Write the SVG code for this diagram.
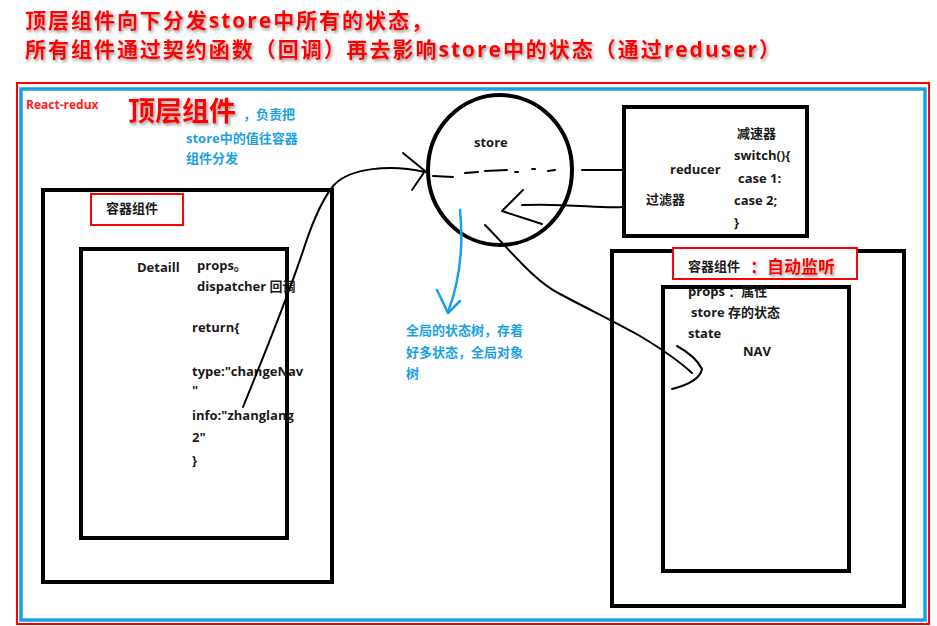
<svg xmlns="http://www.w3.org/2000/svg" width="937" height="626" viewBox="0 0 937 626">
<defs>
<style>
.t{font-family:"Open Sans","Noto Sans CJK SC",sans-serif;font-weight:bold;font-size:13px;fill:#1a1a1a}
.b{fill:#1ba1e2}
.title{font-size:21px;fill:#ff0000;filter:url(#sh)}
.box{fill:none;stroke:#000;stroke-width:4}
.rbox{fill:#fff;stroke:#ff0000;stroke-width:2}
.ln{fill:none;stroke:#000;stroke-width:2;stroke-linecap:round;stroke-linejoin:round}
.bl{fill:none;stroke:#1ba1e2;stroke-width:2.5;stroke-linecap:round;stroke-linejoin:round}
</style>
<filter id="sh" x="-5%" y="-30%" width="110%" height="170%">
<feDropShadow dx="1.5" dy="2" stdDeviation="1.5" flood-color="#666" flood-opacity="0.7"/>
</filter>
</defs>
<rect width="937" height="626" fill="#fff"/>

<g id="title">
<text class="t title" x="25" y="28" textLength="407" lengthAdjust="spacing">顶层组件向下分发store中所有的状态，</text>
<text class="t title" x="25" y="57" textLength="755" lengthAdjust="spacing">所有组件通过契约函数（回调）再去影响store中的状态（通过reduser）</text>
</g>

<g id="frame">
<rect x="17" y="83" width="912" height="541" fill="none" stroke="#ff0000" stroke-width="2"/>
<rect x="21" y="89" width="904" height="531" fill="none" stroke="#1ba1e2" stroke-width="3.5"/>
<text class="t" x="26" y="109" style="font-size:12px;fill:#ff2020">React-redux</text>
</g>

<g id="top-component">
<text class="t" x="128" y="121" style="font-size:27px;fill:#ff0000;filter:url(#sh)">顶层组件</text>
<text class="t b" x="243" y="119">，负责把</text>
<text class="t b" x="186" y="143">store中的值往容器</text>
<text class="t b" x="186" y="163">组件分发</text>
</g>

<g id="left-container">
<rect class="box" x="43" y="190" width="289" height="392"/>
<rect class="rbox" x="91" y="194" width="92" height="31"/>
<text class="t" x="106" y="213">容器组件</text>
</g>

<g id="detail">
<rect class="box" x="81" y="249" width="206" height="289"/>
<text class="t" x="137" y="272">Detaill</text>
<text class="t" x="197" y="270">props。</text>
<text class="t" x="197" y="291">dispatcher 回调</text>
<text class="t" x="192" y="332">return{</text>
<text class="t" x="192" y="376">type:"changeNav</text>
<text class="t" x="192" y="395">"</text>
<text class="t" x="192" y="420">info:"zhanglang</text>
<text class="t" x="192" y="442">2"</text>
<text class="t" x="192" y="465">}</text>
</g>

<g id="store">
<ellipse cx="500" cy="170" rx="72" ry="75" fill="#fff" stroke="#000" stroke-width="4"/>
<text class="t" x="474" y="147">store</text>
</g>

<g id="reducer">
<rect class="box" x="624" y="107" width="183" height="129"/>
<text class="t" x="670" y="174">reducer</text>
<text class="t" x="646" y="204">过滤器</text>
<text class="t" x="737" y="138">减速器</text>
<text class="t" x="734" y="160">switch(){</text>
<text class="t" x="738" y="183">case 1:</text>
<text class="t" x="734" y="205">case 2;</text>
<text class="t" x="734" y="227">}</text>
</g>

<g id="right-container">
<rect class="box" x="612" y="251" width="292" height="355"/>
<rect class="rbox" x="673" y="248" width="184" height="31"/>
<text class="t" x="688" y="271">容器组件</text>
<text class="t" x="750" y="273" style="font-size:17px;fill:#ff0000;filter:url(#sh)">：自动监听</text>
</g>

<g id="nav">
<rect class="box" x="663" y="287" width="186" height="284"/>
<text class="t" x="688" y="296">props ：属性</text>
<text class="t" x="691" y="317">store 存的状态</text>
<text class="t" x="688" y="338">state</text>
<text class="t" x="743" y="356">NAV</text>
</g>

<g id="state-tree-note">
<text class="t b" x="406" y="335">全局的状态树，存着</text>
<text class="t b" x="406" y="357">好多状态，全局对象</text>
<text class="t b" x="406" y="378">树</text>
</g>

<g id="connectors">
<path class="ln" d="M243,407 C262,360 287,300 305,245 C315,215 324,197 334,185 C350,168 390,164 425,172"/>
<path class="ln" d="M403,153 L425,171 L412,190"/>
<path class="ln" stroke-width="2.5" d="M433,176 L453,177 M465,173 L478,172 M485,171 L507,170 M515,172 L518,172 M532,169 L535,169 M548,171 L555,170 M582,170 L623,170"/>
<path class="ln" d="M623,207 C600,209 570,203 522,205"/>
<path class="ln" d="M523,190 L502,211 L542,224"/>
<path class="ln" d="M485,225 C510,250 535,282 560,294 C590,310 615,322 640,336 C660,348 678,360 692,373"/>
<path class="ln" d="M677,346 C688,352 698,361 702,369 C700,379 688,385 672,389"/>
<path class="bl" d="M460,210 C463,240 462,275 448,312"/>
<path class="bl" d="M437,290 L448,313 L460,301"/>
</g>
</svg>
